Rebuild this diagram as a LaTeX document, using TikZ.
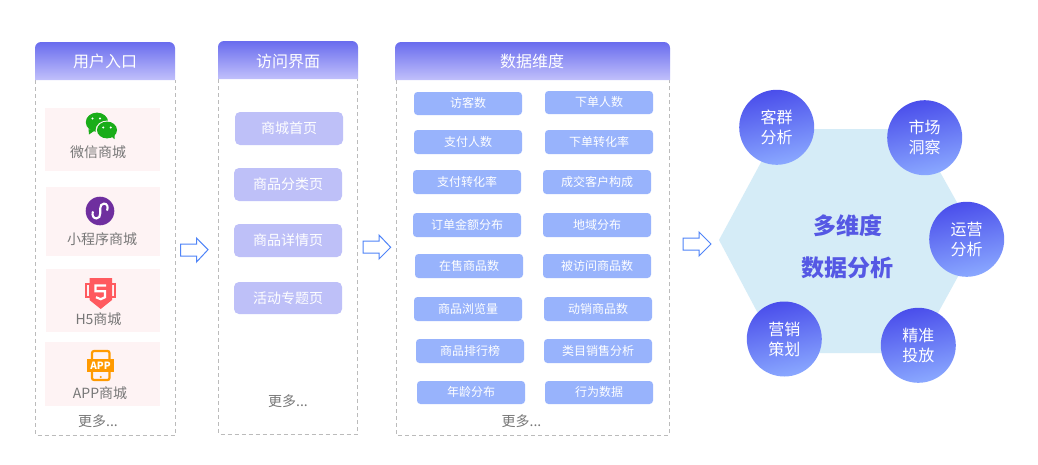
\documentclass[tikz,border=0pt]{standalone}
\usepackage{fontspec}
\setmainfont{Noto Sans CJK SC}
\definecolor{hdrtop}{HTML}{696CEE}
\definecolor{hdrbot}{HTML}{C1C0FB}
\definecolor{pinkbg}{HTML}{FEF3F4}
\definecolor{lilac}{HTML}{BEC0F8}
\definecolor{sky}{HTML}{98B3FC}
\definecolor{dashgray}{HTML}{BBBBBB}
\definecolor{txtgray}{HTML}{777777}
\definecolor{arrowblue}{HTML}{4F84F8}
\definecolor{hexfill}{HTML}{D5ECF7}
\definecolor{circtop}{HTML}{4A4EEB}
\definecolor{circbot}{HTML}{8AA8FF}
\definecolor{centertxt}{HTML}{5558E4}
\definecolor{wxgreen}{HTML}{1AAD19}
\definecolor{minipurple}{HTML}{6F2F9F}
\definecolor{h5red}{HTML}{FF5A5F}
\definecolor{apporange}{HTML}{FF9A00}
\tikzset{
  hdrshade/.style={top color=hdrtop,bottom color=hdrbot,draw=none},
  hdrtext/.style={text=white,inner sep=0pt,font=\fontsize{16}{18}\selectfont,text height=14pt,text depth=2pt},
  dashbox/.style={draw=dashgray,line width=.9pt,dash pattern=on 4pt off 3pt},
  itemtext/.style={text=txtgray,inner sep=0pt,font=\fontsize{14}{16}\selectfont,text height=12.5pt,text depth=1.5pt},
  pagebox/.style={fill=lilac,text=white,rounded corners=5pt,inner sep=0pt,minimum width=108pt,font=\fontsize{14}{16}\selectfont,text height=12pt,text depth=2pt},
  metricbox/.style={fill=sky,text=white,rounded corners=3.5pt,inner sep=0pt,minimum width=108pt,font=\fontsize{12}{14}\selectfont,text height=10pt,text depth=2pt},
  flowarrow/.style={draw=arrowblue,fill=white,line width=1pt,line join=miter},
  bubble/.style={circle,minimum size=75pt,inner sep=0pt,top color=circtop,bottom color=circbot,shading angle=12,text=white,align=center,font=\fontsize{16}{20}\selectfont},
}
\begin{document}
\begin{tikzpicture}[x=1pt,y=-1pt]
\useasboundingbox (0,0) rectangle (1038,464);
\fill[white] (0,0) rectangle (1038,464);

% column frames (open at the top, closed by the headers)
\draw[dashbox] (35.5,80) -- (35.5,435) -- (175,435) -- (175,80);
\draw[dashbox] (218.5,79) -- (218.5,434) -- (357.5,434) -- (357.5,79);
\draw[dashbox] (396,80) -- (396,435) -- (669,435) -- (669,80);

% column headers
\path[hdrshade] (35,80) [rounded corners=6pt] -- (35,42) -- (175,42) [sharp corners] -- (175,80) -- cycle;
\path[hdrshade] (218,79) [rounded corners=6pt] -- (218,41) -- (358,41) [sharp corners] -- (358,79) -- cycle;
\path[hdrshade] (395,80) [rounded corners=6pt] -- (395,42) -- (670,42) [sharp corners] -- (670,80) -- cycle;
\node[hdrtext] (h1) at (105,61.5) {用户入口};
\node[hdrtext] (h2) at (288,61) {访问界面};
\node[hdrtext] (h3) at (532,61.5) {数据维度};

% entry cards
\fill[pinkbg] (45,108) rectangle (160,171);
\fill[pinkbg] (46,187) rectangle (160,256);
\fill[pinkbg] (46,269) rectangle (160,332);
\fill[pinkbg] (45,342) rectangle (160,406);

% WeChat icon
\fill[wxgreen] (97,122.2) ellipse [x radius=11.2pt,y radius=9.6pt];
\fill[wxgreen] (88.5,129) -- (89,134.5) -- (94,131) -- cycle;
\fill[pinkbg] (107,130.2) ellipse [x radius=11.4pt,y radius=9.6pt];
\fill[wxgreen] (107,130) ellipse [x radius=10pt,y radius=8.4pt];
\fill[wxgreen] (111,136) -- (114.5,139.2) -- (114.5,134) -- cycle;
\fill[white] (92.5,118.5) circle (1.2pt) (100,118.5) circle (1.2pt);
\fill[white] (103.3,127.5) circle (1.1pt) (110.7,127.5) circle (1.1pt);

% mini-program icon
\fill[minipurple] (100,211) circle (14.3pt);
\draw[white,line width=2.1pt,line cap=round] (92.8,212) .. controls (91.8,215.5) and (93.4,218.4) .. (96.4,218.4) .. controls (99.2,218.4) and (100.2,216) .. (100.2,213.5) -- (100.2,208.5) .. controls (100.2,206) and (101.4,203.6) .. (104,203.6) .. controls (107,203.6) and (108.4,206.5) .. (107.2,210);

% H5 icon
\fill[h5red] (85,283.3) rectangle (116,298);
\fill[pinkbg] (87,285) rectangle (89.2,296.2);
\fill[pinkbg] (111.8,285) rectangle (114,296.2);
\fill[h5red] (89.5,278) -- (112,278) -- (112,300) -- (100.7,309) -- (89.5,300) -- cycle;
\draw[white,line width=2.2pt,line join=miter] (106,285.5) -- (95.5,285.5) -- (95.5,291.3) -- (105,291.3) -- (105,297.2) -- (100.7,299.2) -- (96,297.2);

% APP icon
\draw[apporange,line width=2.2pt,rounded corners=2pt] (92,351) rectangle (109.5,380);
\fill[apporange] (87,359) rectangle (114,371.7);
\fill[apporange] (100.7,377) circle (1.1pt);
\node[text=white,inner sep=0pt,font=\fontsize{10}{12}\selectfont\bfseries] (appicon) at (100.5,365.3) {APP};

\node[itemtext] (e1) at (98,152) {微信商城};
\node[itemtext] (e2) at (102,239) {小程序商城};
\node[itemtext] (e3) at (98.5,319) {H5商城};
\node[itemtext] (e4) at (100,393) {APP商城};
\node[itemtext] (more1) at (98,421) {更多...};

% page boxes
\node[pagebox,minimum height=33pt] (p1) at (289,128.5) {商城首页};
\node[pagebox,minimum height=33pt] (p2) at (288,184.5) {商品分类页};
\node[pagebox,minimum height=33pt] (p3) at (288,240.5) {商品详情页};
\node[pagebox,minimum height=32pt] (p4) at (288,298) {活动专题页};
\node[itemtext] (more2) at (288,401) {更多...};

% metric boxes
\node[metricbox,minimum height=23pt] (m1) at (468,103.5) {访客数};
\node[metricbox,minimum height=23pt] (m2) at (599,102.5) {下单人数};
\node[metricbox,minimum height=24pt] (m3) at (468,142) {支付人数};
\node[metricbox,minimum height=24pt] (m4) at (599,142) {下单转化率};
\node[metricbox,minimum height=24pt] (m5) at (467,182) {支付转化率};
\node[metricbox,minimum height=24pt] (m6) at (597,182) {成交客户构成};
\node[metricbox,minimum height=24pt] (m7) at (467,225) {订单金额分布};
\node[metricbox,minimum height=24pt] (m8) at (597,225) {地域分布};
\node[metricbox,minimum height=24pt] (m9) at (469,266) {在售商品数};
\node[metricbox,minimum height=24pt] (m10) at (597,266) {被访问商品数};
\node[metricbox,minimum height=24pt] (m11) at (468,309) {商品浏览量};
\node[metricbox,minimum height=24pt] (m12) at (598,309) {动销商品数};
\node[metricbox,minimum height=24pt] (m13) at (470,351) {商品排行榜};
\node[metricbox,minimum height=24pt] (m14) at (598,351) {类目销售分析};
\node[metricbox,minimum height=23pt] (m15) at (471,392.5) {年龄分布};
\node[metricbox,minimum height=23pt] (m16) at (599,392.5) {行为数据};
\node[itemtext] (more3) at (521.5,421) {更多...};

% flow arrows
\draw[flowarrow] (180.5,244) -- (196.5,244) -- (196.5,238) -- (208,249.7) -- (196.5,262) -- (196.5,256) -- (180.5,256) -- cycle;
\draw[flowarrow] (363,241) -- (379,241) -- (379,235) -- (390.7,247.3) -- (379,259) -- (379,253) -- (363,253) -- cycle;
\draw[flowarrow] (683,238) -- (699,238) -- (699,232) -- (711,244) -- (699,256) -- (699,250) -- (683,250) -- cycle;

% hexagon
\fill[hexfill] (719,240) -- (779,129) -- (916,129) -- (978,240) -- (916,353) -- (779,353) -- cycle;
\node[text=centertxt,inner sep=0pt,align=center,font=\fontsize{23}{41.5}\selectfont\bfseries] (core) at (847.5,246.5) {多维度\\数据分析};

% bubbles
\node[bubble] (b1) at (776.7,127.3) {客群\\分析};
\node[bubble] (b2) at (924.7,137.7) {市场\\洞察};
\node[bubble] (b3) at (966.7,239.3) {运营\\分析};
\node[bubble] (b4) at (784.3,339) {营销\\策划};
\node[bubble] (b5) at (918.3,345.3) {精准\\投放};
\end{tikzpicture}
\end{document}
